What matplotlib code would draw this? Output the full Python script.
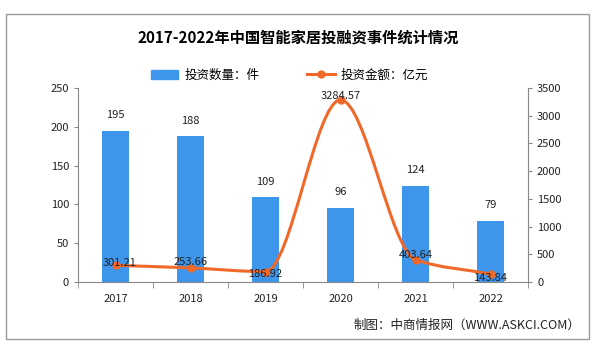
import matplotlib.pyplot as plt
import numpy as np
from matplotlib.path import Path
from matplotlib.patches import PathPatch, Rectangle
from matplotlib.lines import Line2D

plt.rcParams['font.family'] = ['Noto Sans CJK SC', 'DejaVu Sans']

years = ["2017", "2018", "2019", "2020", "2021", "2022"]
counts = [195, 188, 109, 96, 124, 79]
amounts = [301.21, 253.66, 186.92, 3284.57, 403.64, 143.84]

bar_color = "#3D95EC"
line_color = "#F0692A"

fig = plt.figure(figsize=(5.97, 3.57), dpi=100)
fig.patches.append(Rectangle((6 / 597, 1 - 339 / 357), 583 / 597, 325 / 357,
                             transform=fig.transFigure, fill=False,
                             edgecolor="#999999", linewidth=1))

ax = fig.add_axes([78 / 597, 1 - 282 / 357, 450 / 597, 194 / 357])
ax2 = ax.twinx()

x = np.arange(len(years))
ax.bar(x, counts, width=0.36, color=bar_color, zorder=2)
ax.set_xlim(-0.5, len(years) - 0.5)
ax.set_ylim(0, 250)
ax.set_yticks(range(0, 251, 50))
ax2.set_ylim(0, 3500)
ax2.set_yticks(range(0, 3501, 500))

for xi, c in zip(x, counts):
    ax.annotate(str(c), (xi, c), xytext=(0, 11), textcoords="offset points",
                ha="center", va="center", fontsize=8, color="#222222")

# smooth monotone curve through the points (cubic Bezier segments)
px = x.astype(float)
py = np.array(amounts, dtype=float)
d = np.diff(py) / np.diff(px)
m = np.zeros_like(py)
m[0], m[-1] = d[0], d[-1]
for i in range(1, len(py) - 1):
    if d[i - 1] * d[i] > 0:
        m[i] = 2 / (1 / d[i - 1] + 1 / d[i])
verts = [(px[0], py[0])]
codes = [Path.MOVETO]
for i in range(len(px) - 1):
    h = px[i + 1] - px[i]
    verts += [(px[i] + h / 3, py[i] + m[i] * h / 3),
              (px[i + 1] - h / 3, py[i + 1] - m[i + 1] * h / 3),
              (px[i + 1], py[i + 1])]
    codes += [Path.CURVE4] * 3
ax2.add_patch(PathPatch(Path(verts, codes), fill=False, edgecolor=line_color,
                        linewidth=2.2, zorder=3))
ax2.plot(x, amounts, "o", color=line_color, markersize=5, zorder=4)

offsets = [(3, 2), (0, 4), (0, -2), (0, 3), (0, 3), (0, -3)]
for xi, a, off in zip(x, amounts, offsets):
    ax2.annotate(f"{a:.2f}", (xi, a), xytext=off, textcoords="offset points",
                 ha="center", va="center", fontsize=8, color="#222222", zorder=5)

for a in (ax, ax2):
    a.spines["top"].set_visible(False)
    a.tick_params(labelsize=8, colors="#222222", length=3, color="#888888")
ax.spines["left"].set_color("#888888")
ax.spines["bottom"].set_color("#888888")
ax.spines["right"].set_visible(False)
ax2.spines["left"].set_visible(False)
ax2.spines["bottom"].set_visible(False)
ax2.spines["right"].set_color("#888888")

ax.set_xticks(x)
ax.set_xticklabels(years)
ax.set_xticks(np.arange(-0.5, len(years), 1), minor=True)
ax.tick_params(axis="x", which="major", length=0, pad=9)
ax.tick_params(axis="x", which="minor", length=4, color="#888888")

fig.text(0.5, 1 - 38 / 357, "2017-2022年中国智能家居投融资事件统计情况",
         ha="center", va="center", fontsize=11, fontweight="bold")

handles = [Rectangle((0, 0), 1, 1, color=bar_color),
           Line2D([], [], color=line_color, linewidth=2.2, marker="o", markersize=5)]
fig.legend(handles, ["投资数量：件", "投资金额：亿元"], loc="center",
           bbox_to_anchor=(0.485, 1 - 75 / 357), ncol=2, frameon=False,
           fontsize=9, handlelength=2.2, columnspacing=3.8, handletextpad=0.5)

fig.text(580 / 597, 1 - 325 / 357, "制图：中商情报网（WWW.ASKCI.COM）",
         ha="right", va="center", fontsize=9, color="#222222")

fig.savefig("out.png", dpi=100)
